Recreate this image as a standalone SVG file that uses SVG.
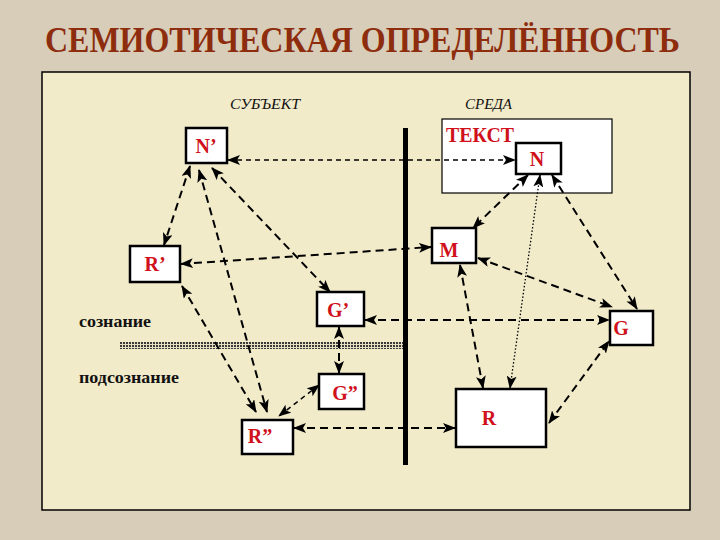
<svg xmlns="http://www.w3.org/2000/svg" width="720" height="540" viewBox="0 0 720 540">
<defs>
<style>
.title{font-family:"Liberation Serif","Times New Roman",serif;font-weight:bold;font-size:31px;fill:#8e2c0e}
.side{font-family:"Liberation Serif","Times New Roman",serif;font-style:italic;font-size:15px;fill:#111}
.lvl{font-family:"Liberation Serif","Times New Roman",serif;font-weight:bold;font-size:17px;fill:#111}
.lbl{font-family:"Liberation Serif","Times New Roman",serif;font-weight:bold;font-size:20px;fill:#d0101a}
.box{fill:#ffffff;stroke:#000;stroke-width:2.5}
.tbox{fill:#ffffff;stroke:#000;stroke-width:1.2}
.c{fill:none;stroke:#000;stroke-width:2;stroke-dasharray:8 5;marker-start:url(#ah);marker-end:url(#ah)}
.ct{fill:none;stroke:#000;stroke-width:1.5;stroke-dasharray:5 4;marker-start:url(#ah);marker-end:url(#ah)}
.cd{fill:none;stroke:#000;stroke-width:1.3;stroke-dasharray:1.5 2;marker-start:url(#ah);marker-end:url(#ah)}
</style>
<marker id="ah" viewBox="0 0 13 10" refX="12" refY="5" markerWidth="13" markerHeight="10" markerUnits="userSpaceOnUse" orient="auto-start-reverse">
<path d="M0,0 L13,5 L0,10 L3,5 z" fill="#000"/>
</marker>
<pattern id="dots" width="3" height="3" patternUnits="userSpaceOnUse">
<rect width="3" height="3" fill="#e6e0c0"/>
<rect width="2" height="2" fill="#3a3a3a"/>
</pattern>
</defs>
<rect width="720" height="540" fill="#d7cdb8"/>
<text class="title" transform="translate(45,52) scale(1,1.17)" x="0" y="0" textLength="635" lengthAdjust="spacingAndGlyphs">СЕМИОТИЧЕСКАЯ ОПРЕДЕЛЁННОСТЬ</text>
<rect x="42" y="72" width="648" height="438" fill="#f1ebca" stroke="#000" stroke-width="1.5"/>
<text class="side" x="230" y="109" textLength="70" lengthAdjust="spacingAndGlyphs">СУБЪЕКТ</text>
<text class="side" x="465" y="109" textLength="47" lengthAdjust="spacingAndGlyphs">СРЕДА</text>
<text class="lvl" x="79" y="327" textLength="72" lengthAdjust="spacingAndGlyphs">сознание</text>
<text class="lvl" x="79" y="383" textLength="100" lengthAdjust="spacingAndGlyphs">подсознание</text>
<rect x="120" y="342" width="283" height="7" fill="url(#dots)"/>
<rect x="403" y="128" width="5" height="337" fill="#000"/>
<g id="text-area">
<rect class="tbox" x="442" y="119" width="170" height="74"/>
<text class="lbl" x="446" y="142" textLength="68" lengthAdjust="spacingAndGlyphs">ТЕКСТ</text>
</g>
<g id="connectors">
<line class="ct" x1="228" y1="160" x2="515" y2="160"/>
<line class="c" x1="190" y1="166" x2="164" y2="245"/>
<line class="c" x1="199" y1="170" x2="267" y2="412"/>
<line class="c" x1="182" y1="286" x2="256" y2="412"/>
<line class="c" x1="212" y1="168" x2="330" y2="292"/>
<line class="c" x1="181" y1="264" x2="431" y2="247"/>
<line class="c" x1="528" y1="175" x2="473" y2="228"/>
<line class="cd" x1="540" y1="175" x2="510" y2="388"/>
<line class="c" x1="552" y1="175" x2="637" y2="309"/>
<line class="c" x1="478" y1="258" x2="612" y2="307"/>
<line class="c" x1="460" y1="265" x2="483" y2="388"/>
<line class="c" x1="365" y1="320" x2="609" y2="320"/>
<line class="c" x1="339" y1="327" x2="339" y2="373"/>
<line class="ct" x1="319" y1="385" x2="279" y2="416"/>
<line class="c" x1="294" y1="428" x2="455" y2="428"/>
<line class="c" x1="549" y1="423" x2="609" y2="341"/>
</g>
<g id="N1">
<rect class="box" x="186" y="128" width="41" height="35"/>
<text class="lbl" x="206" y="153" text-anchor="middle">N’</text>
</g>
<g id="N">
<rect class="box" x="516" y="143" width="45" height="31"/>
<text class="lbl" x="537" y="166" text-anchor="middle">N</text>
</g>
<g id="R1">
<rect class="box" x="130" y="246" width="50" height="36"/>
<text class="lbl" x="155" y="271" text-anchor="middle">R’</text>
</g>
<g id="M">
<rect class="box" x="432" y="228" width="44" height="35"/>
<text class="lbl" x="449" y="257" text-anchor="middle">M</text>
</g>
<g id="G1">
<rect class="box" x="317" y="292" width="47" height="34"/>
<text class="lbl" x="338" y="317" text-anchor="middle">G’</text>
</g>
<g id="G">
<rect class="box" x="610" y="311" width="43" height="34"/>
<text class="lbl" x="621" y="335" text-anchor="middle">G</text>
</g>
<g id="G2">
<rect class="box" x="319" y="374" width="45" height="35"/>
<text class="lbl" x="345" y="400" text-anchor="middle">G”</text>
</g>
<g id="R2">
<rect class="box" x="242" y="420" width="51" height="34"/>
<text class="lbl" x="260" y="443" text-anchor="middle">R”</text>
</g>
<g id="R">
<rect class="box" x="456" y="389" width="90" height="58"/>
<text class="lbl" x="489" y="425" text-anchor="middle">R</text>
</g>
</svg>
